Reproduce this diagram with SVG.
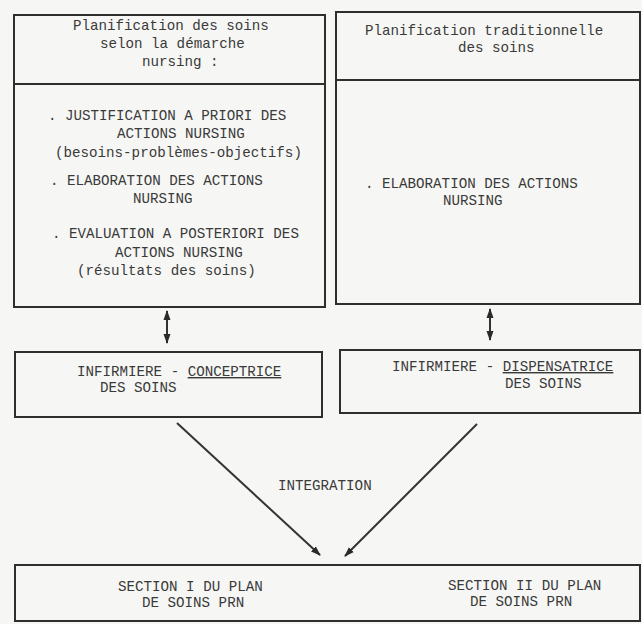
<svg xmlns="http://www.w3.org/2000/svg" width="642" height="624" viewBox="0 0 642 624">
  <style>
    .box { fill: none; stroke: #2e2e2e; stroke-width: 2; }
    .t { font-family: "Liberation Mono", "DejaVu Sans Mono", monospace; font-size: 14.2px; fill: #3a3a3a; }
    .c { stroke: #333; stroke-width: 2; fill: none; }
    .u { text-decoration: underline; }
  </style>
  <defs>
    <marker id="ah" viewBox="0 0 10 10" refX="9" refY="5" markerWidth="5" markerHeight="5" orient="auto-start-reverse">
      <path d="M0,1.5 L10,5 L0,8.5 z" fill="#2a2a2a"/>
    </marker>
  </defs>
  <rect x="0" y="0" width="642" height="624" fill="#f6f6f4"/>

  <g id="nursing-plan">
    <rect class="box" x="14" y="15" width="311" height="292"/>
    <line class="box" x1="14" y1="84" x2="325" y2="84"/>
    <text class="t" x="73" y="30">Planification des soins</text>
    <text class="t" x="100" y="48">selon la démarche</text>
    <text class="t" x="142" y="66">nursing :</text>
    <text class="t" x="48" y="120">. JUSTIFICATION A PRIORI DES</text>
    <text class="t" x="117" y="138">ACTIONS NURSING</text>
    <text class="t" x="55" y="157">(besoins-problèmes-objectifs)</text>
    <text class="t" x="50" y="185">. ELABORATION DES ACTIONS</text>
    <text class="t" x="133" y="203">NURSING</text>
    <text class="t" x="52" y="238">. EVALUATION A POSTERIORI DES</text>
    <text class="t" x="115" y="257">ACTIONS NURSING</text>
    <text class="t" x="77" y="275">(résultats des soins)</text>
  </g>

  <g id="traditional-plan">
    <rect class="box" x="336" y="12" width="304" height="292"/>
    <line class="box" x1="336" y1="80" x2="640" y2="80"/>
    <text class="t" x="365" y="35">Planification traditionnelle</text>
    <text class="t" x="458" y="52">des soins</text>
    <text class="t" x="365" y="188">. ELABORATION DES ACTIONS</text>
    <text class="t" x="443" y="205">NURSING</text>
  </g>

  <g id="conceptrice">
    <rect class="box" x="15" y="352" width="307" height="65"/>
    <text class="t" x="77" y="376">INFIRMIERE - <tspan class="u">CONCEPTRICE</tspan></text>
    <text class="t" x="100" y="392">DES SOINS</text>
  </g>

  <g id="dispensatrice">
    <rect class="box" x="340" y="350" width="300" height="63"/>
    <text class="t" x="392" y="371">INFIRMIERE - <tspan class="u">DISPENSATRICE</tspan></text>
    <text class="t" x="505" y="388">DES SOINS</text>
  </g>

  <g id="plan-prn">
    <rect class="box" x="15" y="565" width="625" height="56"/>
    <text class="t" x="118" y="591">SECTION I DU PLAN</text>
    <text class="t" x="142" y="607">DE SOINS PRN</text>
    <text class="t" x="448" y="590">SECTION II DU PLAN</text>
    <text class="t" x="470" y="606">DE SOINS PRN</text>
  </g>

  <g id="connectors">
    <line class="c" x1="167" y1="311" x2="167" y2="343" marker-start="url(#ah)" marker-end="url(#ah)"/>
    <line class="c" x1="490" y1="309" x2="490" y2="340" marker-start="url(#ah)" marker-end="url(#ah)"/>
    <line class="c" x1="177" y1="423" x2="320" y2="555" marker-end="url(#ah)"/>
    <line class="c" x1="477" y1="424" x2="345" y2="556" marker-end="url(#ah)"/>
    <text class="t" x="278" y="490">INTEGRATION</text>
  </g>
</svg>
